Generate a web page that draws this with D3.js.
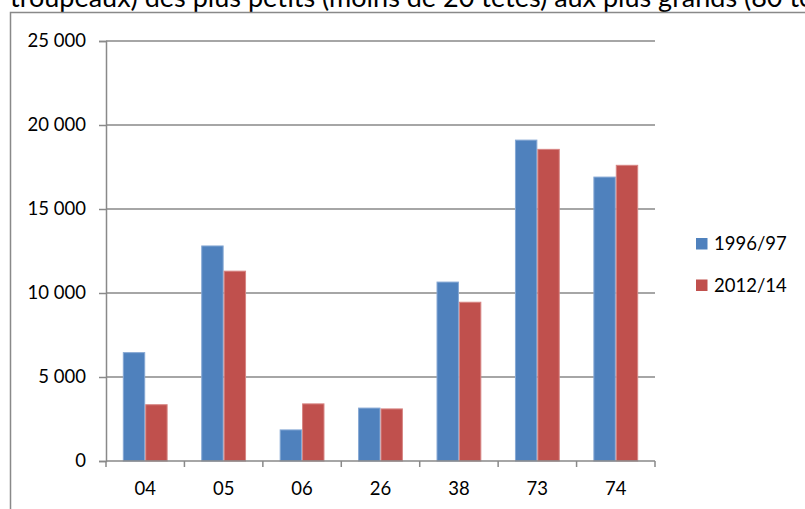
<!DOCTYPE html>
<html>
<head>
<meta charset="utf-8">
<script src="https://cdn.jsdelivr.net/npm/d3@7"></script>
<style>
  html, body { margin: 0; padding: 0; background: #fff; overflow: hidden; }
  svg { display: block; }
  text { font-family: Lato, "Open Sans", sans-serif; fill: #000; }
</style>
</head>
<body>
<svg id="chart" width="805" height="509"></svg>
<script>
const titleText = "troupeaux) des plus petits (moins de 20 têtes) aux plus grands (80 têtes et plus)";
const categories = ["04", "05", "06", "26", "38", "73", "74"];
const seriesNames = ["1996/97", "2012/14"];
const values1996 = [6450, 12800, 1850, 3150, 10650, 19100, 16900];
const values2012 = [3350, 11300, 3400, 3100, 9450, 18550, 17600];
const yTicks = [0, 5000, 10000, 15000, 20000, 25000];
const colors = ["#4F81BD", "#C0504D"];
const edgeColors = ["#86A8D4", "#D78583"];

const seriesValues = [values1996, values2012];
const svg = d3.select("#chart");
const W = 805, H = 509;
const plot = { left: 106, right: 655, top: 41, bottom: 461 };
const axisColor = "#898989";

// text line above the chart (cut off by the frame, as in the source)
svg.append("text")
  .attr("x", 10).attr("y", 6.5)
  .style("font-size", "27px")
  .text(titleText);

// chart frame
svg.append("rect")
  .attr("x", 10.5).attr("y", 12.5)
  .attr("width", W + 20).attr("height", H + 20)
  .attr("fill", "#fff")
  .attr("stroke", axisColor).attr("stroke-width", 1.5);

const x = d3.scaleBand()
  .domain(categories)
  .range([plot.left, plot.right])
  .paddingInner(0.4286)
  .paddingOuter(0.2143);

const x1 = d3.scaleBand()
  .domain(seriesNames)
  .range([0, x.bandwidth()]);

const y = d3.scaleLinear()
  .domain([0, 25000])
  .range([plot.bottom, plot.top]);

const fmt = d3.formatLocale({ decimal: ",", thousands: "\u00a0", grouping: [3], currency: ["", " €"] }).format(",d");

// gridlines
svg.append("g")
  .selectAll("line")
  .data(yTicks.filter(d => d > 0))
  .join("line")
  .attr("x1", plot.left).attr("x2", plot.right)
  .attr("y1", d => y(d)).attr("y2", d => y(d))
  .attr("stroke", axisColor).attr("stroke-width", 1.5);

// bars
const rows = categories.map((c, i) => ({ cat: c, vals: seriesNames.map((s, j) => ({ s, j, v: seriesValues[j][i] })) }));
svg.append("g")
  .selectAll("g")
  .data(rows)
  .join("g")
  .attr("transform", d => `translate(${x(d.cat)},0)`)
  .selectAll("rect")
  .data(d => d.vals)
  .join("rect")
  .attr("x", d => x1(d.s) + 0.5)
  .attr("width", x1.bandwidth() - 1)
  .attr("y", d => y(d.v))
  .attr("height", d => y(0) - y(d.v))
  .attr("fill", d => colors[d.j])
  .attr("stroke", d => edgeColors[d.j])
  .attr("stroke-width", 1);

// y axis
const yAxis = svg.append("g")
  .attr("transform", `translate(${plot.left},0)`)
  .call(d3.axisLeft(y).tickValues(yTicks).tickFormat(fmt).tickSize(7).tickPadding(13));
yAxis.select(".domain").attr("stroke", axisColor).attr("stroke-width", 1.5);
yAxis.selectAll(".tick line").attr("stroke", axisColor).attr("stroke-width", 1.5);
yAxis.selectAll(".tick text").style("font-size", "18.5px").attr("font-family", null).attr("fill", "#000");

// x axis labels
const xAxis = svg.append("g")
  .attr("transform", `translate(0,${plot.bottom})`)
  .call(d3.axisBottom(x).tickSize(0).tickPadding(21));
xAxis.select(".domain").remove();
xAxis.selectAll(".tick text").style("font-size", "18.5px").attr("font-family", null).attr("fill", "#000");

// x axis line and boundary ticks
const step = x.step();
const bounds = categories.map(c => x(c) - (step - x.bandwidth()) / 2).concat([plot.right]);
svg.append("line")
  .attr("x1", plot.left).attr("x2", plot.right)
  .attr("y1", plot.bottom).attr("y2", plot.bottom)
  .attr("stroke", axisColor).attr("stroke-width", 1.5);
svg.append("g")
  .selectAll("line")
  .data(bounds)
  .join("line")
  .attr("x1", d => d).attr("x2", d => d)
  .attr("y1", plot.bottom).attr("y2", plot.bottom + 6)
  .attr("stroke", axisColor).attr("stroke-width", 1.5);

// legend
const legend = svg.append("g").attr("transform", "translate(696,238)");
const li = legend.selectAll("g")
  .data(seriesNames)
  .join("g")
  .attr("transform", (d, i) => `translate(0,${i * 41.5})`);
li.append("rect")
  .attr("width", 11.5).attr("height", 11.5)
  .attr("fill", (d, i) => colors[i]);
li.append("text")
  .attr("x", 18).attr("y", 5.8)
  .attr("dy", "0.35em")
  .style("font-size", "18.5px")
  .text(d => d);
</script>
</body>
</html>
